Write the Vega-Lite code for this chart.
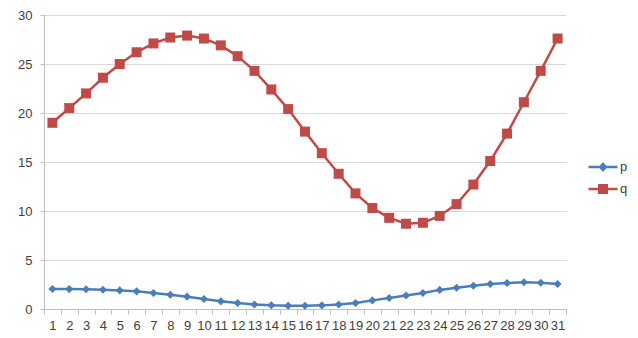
{
  "$schema": "https://vega.github.io/schema/vega-lite/v6.json",
  "width": 522,
  "height": 294,
  "autosize": {"type": "none"},
  "padding": {"left": 44, "top": 15, "right": 72, "bottom": 29},
  "background": "white",
  "config": {
    "view": {"stroke": null},
    "font": "Liberation Sans",
    "axis": {"labelFont": "Liberation Sans", "labelFontSize": 13, "labelColor": "#404040", "gridColor": "#d9d9d9", "gridWidth": 1.2, "domainColor": "#bfbfbf", "tickColor": "#bfbfbf", "title": null},
    "legend": {"labelFont": "Liberation Sans", "labelFontSize": 13, "labelColor": "#404040"}
  },
  "data": {"values": [
    {"d": 1, "s": "p", "v": 2.04}, {"d": 2, "s": "p", "v": 2.03}, {"d": 3, "s": "p", "v": 2.02}, {"d": 4, "s": "p", "v": 1.97},
    {"d": 5, "s": "p", "v": 1.9}, {"d": 6, "s": "p", "v": 1.8}, {"d": 7, "s": "p", "v": 1.63}, {"d": 8, "s": "p", "v": 1.46},
    {"d": 9, "s": "p", "v": 1.26}, {"d": 10, "s": "p", "v": 1.02}, {"d": 11, "s": "p", "v": 0.78}, {"d": 12, "s": "p", "v": 0.61},
    {"d": 13, "s": "p", "v": 0.46}, {"d": 14, "s": "p", "v": 0.38}, {"d": 15, "s": "p", "v": 0.34}, {"d": 16, "s": "p", "v": 0.33},
    {"d": 17, "s": "p", "v": 0.37}, {"d": 18, "s": "p", "v": 0.45}, {"d": 19, "s": "p", "v": 0.62}, {"d": 20, "s": "p", "v": 0.88},
    {"d": 21, "s": "p", "v": 1.12}, {"d": 22, "s": "p", "v": 1.37}, {"d": 23, "s": "p", "v": 1.63}, {"d": 24, "s": "p", "v": 1.95},
    {"d": 25, "s": "p", "v": 2.16}, {"d": 26, "s": "p", "v": 2.38}, {"d": 27, "s": "p", "v": 2.55}, {"d": 28, "s": "p", "v": 2.65},
    {"d": 29, "s": "p", "v": 2.72}, {"d": 30, "s": "p", "v": 2.68}, {"d": 31, "s": "p", "v": 2.56},
    {"d": 1, "s": "q", "v": 19.0}, {"d": 2, "s": "q", "v": 20.5}, {"d": 3, "s": "q", "v": 22.0}, {"d": 4, "s": "q", "v": 23.6},
    {"d": 5, "s": "q", "v": 25.0}, {"d": 6, "s": "q", "v": 26.2}, {"d": 7, "s": "q", "v": 27.1}, {"d": 8, "s": "q", "v": 27.7},
    {"d": 9, "s": "q", "v": 27.9}, {"d": 10, "s": "q", "v": 27.6}, {"d": 11, "s": "q", "v": 26.9}, {"d": 12, "s": "q", "v": 25.8},
    {"d": 13, "s": "q", "v": 24.3}, {"d": 14, "s": "q", "v": 22.4}, {"d": 15, "s": "q", "v": 20.4}, {"d": 16, "s": "q", "v": 18.1},
    {"d": 17, "s": "q", "v": 15.9}, {"d": 18, "s": "q", "v": 13.8}, {"d": 19, "s": "q", "v": 11.8}, {"d": 20, "s": "q", "v": 10.3},
    {"d": 21, "s": "q", "v": 9.3}, {"d": 22, "s": "q", "v": 8.7}, {"d": 23, "s": "q", "v": 8.8}, {"d": 24, "s": "q", "v": 9.5},
    {"d": 25, "s": "q", "v": 10.7}, {"d": 26, "s": "q", "v": 12.7}, {"d": 27, "s": "q", "v": 15.1}, {"d": 28, "s": "q", "v": 17.9},
    {"d": 29, "s": "q", "v": 21.1}, {"d": 30, "s": "q", "v": 24.3}, {"d": 31, "s": "q", "v": 27.6}
  ]},
  "encoding": {
    "x": {"field": "d", "type": "ordinal", "scale": {"type": "band", "paddingInner": 0, "paddingOuter": 0},
      "axis": {"labelAngle": 0, "labelOverlap": false, "labelPadding": 5, "tickSize": 5, "tickBand": "extent", "domainColor": "#bfbfbf", "grid": false, "labelFontSize": 13}},
    "y": {"field": "v", "type": "quantitative", "scale": {"domain": [0, 30]},
      "axis": {"values": [0, 5, 10, 15, 20, 25, 30], "tickSize": 4, "labelPadding": 8, "grid": true, "domain": true}},
    "color": {"field": "s", "type": "nominal", "scale": {"domain": ["p", "q"], "range": ["#4a7ebb", "#be4b48"]},
      "legend": {"title": null, "orient": "none", "legendX": 549, "legendY": 142, "padding": 0, "symbolSize": 400, "labelOffset": 7, "rowPadding": 5,
        "encode": {"symbols": {"update": {"strokeWidth": {"value": 0}, "fill": {"signal": "datum.value === 'p' ? '#4a7ebb' : '#be4b48'"}, "shape": {"signal": "datum.value === 'p' ? 'M-1.45,-0.12H1.45V0.12H-1.45Z M0,-0.5L0.45,0L0,0.5L-0.45,0Z' : 'M-1.45,-0.12H1.45V0.12H-1.45Z M-0.5,-0.5H0.5V0.5H-0.5Z'"}}}}}}
  },
  "layer": [
    {"mark": {"type": "line", "strokeWidth": 2.5}},
    {"transform": [{"filter": "datum.s === 'p'"}],
      "mark": {"type": "point", "filled": true, "opacity": 1, "shape": "diamond", "size": 65}},
    {"transform": [{"filter": "datum.s === 'q'"}],
      "mark": {"type": "point", "filled": true, "opacity": 1, "shape": "square", "size": 100}}
  ]
}
